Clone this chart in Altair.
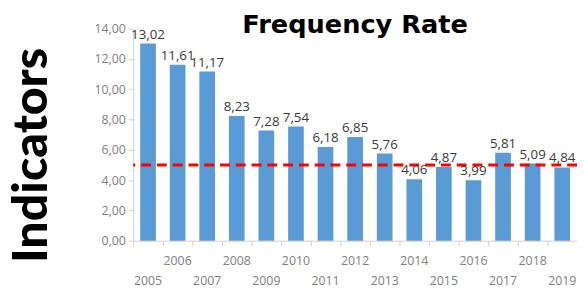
import altair as alt
import pandas as pd

years = list(range(2005, 2020))
values = [13.02, 11.61, 11.17, 8.23, 7.28, 7.54, 6.18, 6.85, 5.76, 4.06, 4.87, 3.99, 5.81, 5.09, 4.84]
target = 5.0
y_ticks = [0, 2, 4, 6, 8, 10, 12, 14]

df = pd.DataFrame({"year": years, "value": values})
df["label"] = df["value"].map(lambda v: f"{v:.2f}".replace(".", ","))

xscale = alt.Scale(paddingInner=0, paddingOuter=0)
yscale = alt.Scale(domain=[0, 14], nice=False)

label_axis = alt.Axis(
    orient="bottom", title=None, ticks=False, domain=True, domainColor="#d0d0d0",
    labelAngle=0, labelFont="Open Sans", labelFontSize=12.5, labelColor="#808080",
    labelBaseline="top", labelPadding=14, labelLineHeight=20, labelOverlap=False,
    labelExpr="datum.value % 2 == 0 ? datum.label : ['', datum.label]",
)
tick_axis = alt.Axis(
    orient="bottom", title=None, labels=False, domain=False, ticks=True,
    tickColor="#d0d0d0", tickSize=5, bandPosition=0,
)
y_axis = alt.Axis(
    values=y_ticks, grid=False, domainColor="#d0d0d0", tickColor="#d0d0d0", tickSize=5,
    labelFont="Open Sans", labelFontSize=12.5, labelColor="#808080", labelPadding=3,
    labelOverlap=False, labelFlush=False,
    labelExpr="replace(format(datum.value, '.2f'), '.', ',')",
    title="Indicators", titleFont="Lato", titleFontSize=49, titleFontWeight=900,
    titleColor="#000000", titleAngle=-90, titleX=-88, titleY=128,
    titleAlign="center", titleBaseline="alphabetic",
)

bars = alt.Chart(df).mark_bar(color="#5b9bd5", width=alt.RelativeBandSize(0.53)).encode(
    x=alt.X("year:O", scale=xscale, axis=label_axis),
    y=alt.Y("value:Q", scale=yscale, axis=y_axis),
)

texts = alt.Chart(df).mark_text(
    baseline="bottom", dy=-2, font="Open Sans", fontSize=13.5, color="#3a3a3a"
).encode(
    x=alt.X("year:O", scale=xscale, axis=tick_axis),
    y=alt.Y("value:Q", scale=yscale, axis=y_axis),
    text="label:N",
)

rule = alt.Chart(pd.DataFrame({"value": [target]})).mark_rule(
    color="#ff0000", strokeWidth=3, strokeDash=[10, 6]
).encode(y=alt.Y("value:Q", scale=yscale, axis=y_axis))

chart = alt.layer(bars, rule, texts).resolve_axis(x="independent").properties(
    width=450, height=215,
    title=alt.Title("Frequency Rate", font="DejaVu Sans", fontSize=26, fontWeight="bold",
                    color="#000000", anchor="middle", offset=-15, dx=0),
    autosize=alt.AutoSizeParams(type="none"),
    padding={"left": 127, "top": 19, "right": 0, "bottom": 46},
).configure_view(stroke=None)

chart.save("out.html", embed_options={"renderer": "svg", "actions": False})
